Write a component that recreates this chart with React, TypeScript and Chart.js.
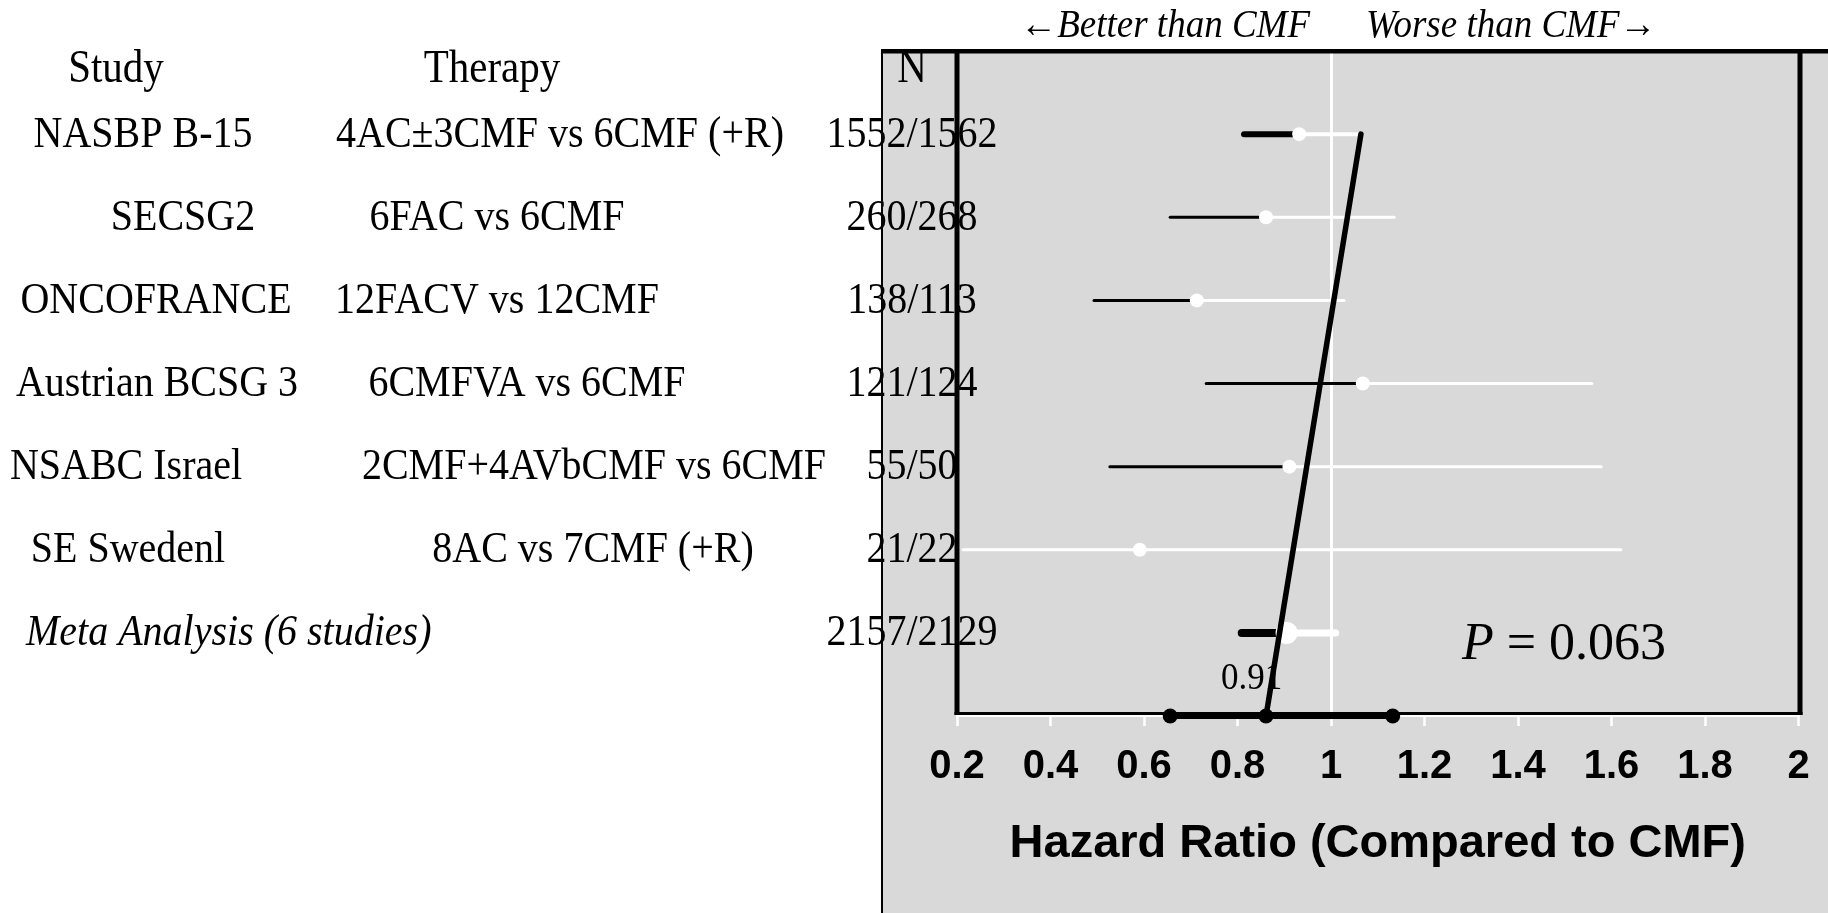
import React, { useEffect, useRef } from "react";
import { Chart, registerables } from "chart.js";

Chart.register(...registerables);

// ---------------- data ----------------
const studies = [
  "NASBP B-15",
  "SECSG2",
  "ONCOFRANCE",
  "Austrian BCSG 3",
  "NSABC Israel",
  "SE Swedenl",
  "Meta Analysis (6 studies)",
];
const therapies = [
  "4AC±3CMF vs 6CMF (+R)",
  "6FAC vs 6CMF",
  "12FACV vs 12CMF",
  "6CMFVA vs 6CMF",
  "2CMF+4AVbCMF vs 6CMF",
  "8AC vs 7CMF (+R)",
  "",
];
const sampleSizes = ["1552/1562", "260/268", "138/113", "121/124", "55/50", "21/22", "2157/2129"];
const rowIndex = [1, 2, 3, 4, 5, 6, 7];
const hrLower = [0.814, 0.656, 0.493, 0.733, 0.527, 0.213, 0.809];
const hrEstimate = [0.932, 0.861, 0.713, 1.068, 0.911, 0.591, 0.905];
const hrUpper = [1.064, 1.135, 1.028, 1.558, 1.578, 1.62, 1.01];
const summaryHR = [0.656, 0.861, 1.132];
const summaryRow = 8;
const trendHR = [1.064, 0.861];
const trendRow = [1, 8];
const xTickValues = [0.2, 0.4, 0.6, 0.8, 1, 1.2, 1.4, 1.6, 1.8, 2];
const xTickLabels = ["0.2", "0.4", "0.6", "0.8", "1", "1.2", "1.4", "1.6", "1.8", "2"];
const headerLabels = ["Study", "Therapy", "N"];
const summaryLabel = "0.91";
const pValueLabel = "0.063";
const directionLabels = ["←Better than CMF", "Worse than CMF→"];
const xAxisTitle = "Hazard Ratio (Compared to CMF)";

// ---------------- styles / layout ----------------
const leftColors = ["#000", "#000", "#000", "#000", "#000", "#fff", "#000"];
const leftWidths = [6, 3, 3, 3, 3, 3, 8];
const rightWidths = [4, 3, 3, 3, 3, 3, 7];
const pointRadii = [7, 7, 7, 7, 7, 7, 11];
const studyX = [143, 183, 156, 157, 126, 128, 26];
const therapyX = [560, 497, 497, 527, 594, 593, 0];
const nColumnX = 912;
const headerX = [116, 492, 912];
const GREY = "rgb(217,217,217)";
const SERIF = '"Liberation Serif", "Times New Roman", Times, serif';
const SANS = '"Liberation Sans", Arial, Helvetica, sans-serif';
const SY = 1.12;

function txt(
  ctx: CanvasRenderingContext2D,
  s: string,
  x: number,
  y: number,
  font: string,
  align: CanvasTextAlign,
  sy = 1
) {
  ctx.save();
  ctx.font = font;
  ctx.textAlign = align;
  ctx.textBaseline = "alphabetic";
  ctx.fillStyle = "#000";
  ctx.translate(x, y);
  ctx.scale(1, sy);
  ctx.fillText(s, 0, 0);
  ctx.restore();
}

const decorPlugin = {
  id: "decor",
  beforeDraw(chart: any) {
    const ctx = chart.ctx as CanvasRenderingContext2D;
    ctx.save();
    ctx.fillStyle = GREY;
    ctx.fillRect(881, 49, 1828 - 881, 913 - 49);
    ctx.fillStyle = "#000";
    ctx.fillRect(881, 49, 2, 913 - 49);
    ctx.restore();
  },
  afterDraw(chart: any) {
    const ctx = chart.ctx as CanvasRenderingContext2D;
    const a = chart.chartArea;
    const xs = chart.scales.x;
    const ys = chart.scales.y;
    ctx.save();
    ctx.fillStyle = "#000";
    // top border across panel
    ctx.fillRect(881, 49, 1828 - 881, 4.5);
    // box left/right
    ctx.fillRect(a.left - 2.5, 49, 5, a.bottom - 1 - 49);
    ctx.fillRect(a.right - 1, 49, 5, a.bottom - 1 - 49);
    // box bottom
    ctx.fillRect(a.left - 2.5, a.bottom - 4, a.right - a.left + 6.5, 3);
    ctx.restore();

    // headers
    headerLabels.forEach((h, i) => txt(ctx, h, headerX[i], 82, `41px ${SERIF}`, "center", SY));

    // table rows
    studies.forEach((s, i) => {
      const py = ys.getPixelForValue(rowIndex[i]) + 12.5;
      const isMeta = i === studies.length - 1;
      txt(ctx, s, studyX[i], py, `${isMeta ? "italic " : ""}40px ${SERIF}`, isMeta ? "left" : "center", SY);
      if (therapies[i]) txt(ctx, therapies[i], therapyX[i], py, `40px ${SERIF}`, "center", SY);
      txt(ctx, sampleSizes[i], nColumnX, py, `40px ${SERIF}`, "center", SY);
    });

    // direction labels
    const x1 = xs.getPixelForValue(1);
    txt(ctx, directionLabels[0], x1 - 21, 37, `italic 37px ${SERIF}`, "right", 1.08);
    txt(ctx, directionLabels[1], x1 + 35, 37, `italic 37px ${SERIF}`, "left", 1.08);

    // summary label
    txt(ctx, summaryLabel, xs.getPixelForValue(0.83), ys.getPixelForValue(7.67), `35px ${SERIF}`, "center", 1.1);

    // P value
    const px = xs.getPixelForValue(1.28);
    const py = ys.getPixelForValue(7.31);
    ctx.save();
    ctx.font = `italic 52px ${SERIF}`;
    const pw = ctx.measureText("P").width;
    ctx.restore();
    txt(ctx, "P", px, py, `italic 52px ${SERIF}`, "left");
    txt(ctx, " = " + pValueLabel, px + pw, py, `52px ${SERIF}`, "left");
  },
};

export default function App() {
  const ref = useRef<HTMLCanvasElement | null>(null);

  useEffect(() => {
    if (!ref.current) return;
    const datasets: any[] = [];

    // trend line
    datasets.push({
      data: trendHR.map((v, i) => ({ x: v, y: trendRow[i] })),
      showLine: true,
      borderColor: "#000",
      borderWidth: 5.5,
      borderCapStyle: "round",
      pointRadius: 0,
      clip: false,
      order: 0,
    });
    // summary row
    datasets.push({
      data: summaryHR.map((v) => ({ x: v, y: summaryRow })),
      showLine: true,
      borderColor: "#000",
      borderWidth: 6,
      pointRadius: 7.5,
      pointBackgroundColor: "#000",
      pointBorderWidth: 0,
      clip: false,
      order: 0,
    });
    // study estimate points
    datasets.push({
      data: hrEstimate.map((v, i) => ({ x: v, y: rowIndex[i] })),
      showLine: false,
      pointRadius: pointRadii,
      pointBackgroundColor: "#fff",
      pointBorderWidth: 0,
      order: 1,
    });
    // right (white) segments
    hrEstimate.forEach((v, i) => {
      datasets.push({
        data: [
          { x: v, y: rowIndex[i] },
          { x: hrUpper[i], y: rowIndex[i] },
        ],
        showLine: true,
        borderColor: "#fff",
        borderWidth: rightWidths[i],
        borderCapStyle: "round",
        pointRadius: 0,
        order: 2,
      });
    });
    // left segments
    hrEstimate.forEach((v, i) => {
      datasets.push({
        data: [
          { x: hrLower[i], y: rowIndex[i] },
          { x: v, y: rowIndex[i] },
        ],
        showLine: true,
        borderColor: leftColors[i],
        borderWidth: leftWidths[i],
        borderCapStyle: "round",
        pointRadius: 0,
        order: 3,
      });
    });

    const chart = new Chart(ref.current, {
      type: "scatter",
      data: { datasets },
      plugins: [decorPlugin],
      options: {
        animation: false,
        responsive: false,
        devicePixelRatio: 1,
        layout: { padding: { left: 957, right: 29.5, top: 51, bottom: 0 } },
        plugins: { legend: { display: false }, tooltip: { enabled: false } },
        scales: {
          x: {
            type: "linear",
            min: 0.2,
            max: 2,
            afterBuildTicks: (scale: any) => {
              scale.ticks = xTickValues.map((v) => ({ value: v }));
            },
            afterFit: (scale: any) => {
              scale.height = 197;
            },
            border: { display: true, color: "#fff", width: 2 },
            grid: {
              color: (c: any) => (c.tick && Math.abs(c.tick.value - 1) < 1e-9 ? "#fff" : "rgba(0,0,0,0)"),
              lineWidth: 3,
              tickColor: "#fff",
              tickWidth: 2.5,
              tickLength: 10,
              drawOnChartArea: true,
            },
            ticks: {
              autoSkip: false,
              maxRotation: 0,
              padding: 17,
              color: "#000",
              font: { family: SANS, size: 40, weight: "bold" },
              callback: (_v: any, i: number) => xTickLabels[i],
            },
            title: {
              display: true,
              text: xAxisTitle,
              color: "#000",
              font: { family: SANS, size: 47, weight: "bold" },
              padding: { top: 0, bottom: 41 },
            },
          },
          y: {
            type: "linear",
            min: 0,
            max: 8,
            reverse: true,
            display: false,
          },
        },
      } as any,
    });
    return () => chart.destroy();
  }, []);

  return (
    <div style={{ position: "fixed", left: 0, top: 0, width: 1828, height: 913, background: "#fff" }}>
      <canvas ref={ref} width={1828} height={913} style={{ display: "block" }} />
    </div>
  );
}
